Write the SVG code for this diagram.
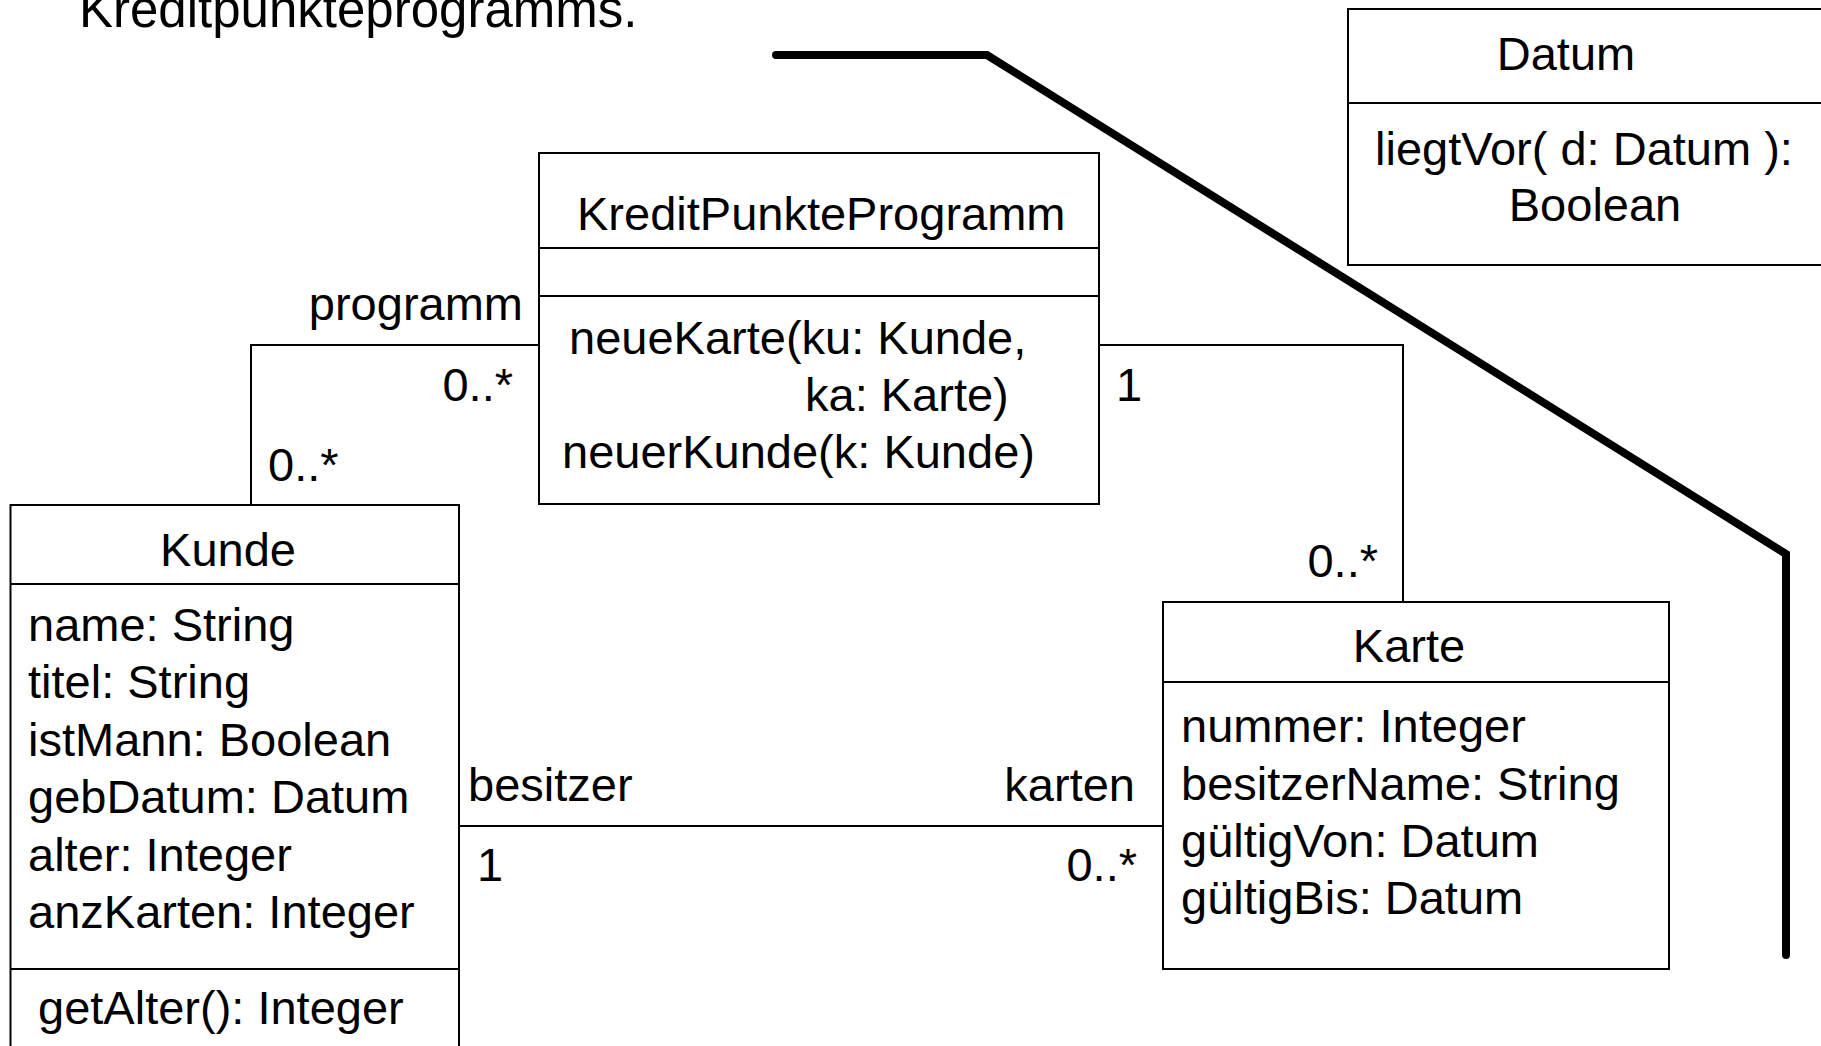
<svg xmlns="http://www.w3.org/2000/svg" width="1821" height="1046" viewBox="0 0 1821 1046">
<style>
text{font-family:"Liberation Sans",Arial,sans-serif;font-size:47px;fill:#000}
.box{fill:#fff;stroke:#000;stroke-width:2}
.div{stroke:#000;stroke-width:2}
.assoc{fill:none;stroke:#000;stroke-width:2}
.c{text-anchor:middle}
.r{text-anchor:end}
</style>
<rect width="1821" height="1046" fill="#fff"/>
<text x="79" y="27" style="font-size:51px">Kreditpunkteprogramms.</text>
<polyline points="776,55 987,55 1786,554 1786,955" fill="none" stroke="#000" stroke-width="8" stroke-linecap="round" stroke-linejoin="miter"/>
<g id="connectors">
<polyline class="assoc" points="539,345 251,345 251,505"/>
<polyline class="assoc" points="1099,345 1403,345 1403,602"/>
<line class="assoc" x1="459" y1="826" x2="1163" y2="826"/>
<text x="523" y="320" class="r">programm</text>
<text x="513" y="401" class="r">0..*</text>
<text x="268" y="481">0..*</text>
<text x="1116" y="401">1</text>
<text x="1378" y="577" class="r">0..*</text>
<text x="468" y="801">besitzer</text>
<text x="1135" y="801" class="r">karten</text>
<text x="477" y="881">1</text>
<text x="1137" y="881" class="r">0..*</text>
</g>
<g id="datum">
<rect class="box" x="1348" y="9" width="500" height="256"/>
<line class="div" x1="1348" y1="103" x2="1821" y2="103"/>
<text x="1566" y="70" class="c">Datum</text>
<text x="1375" y="165">liegtVor( d: Datum ):</text>
<text x="1595" y="221" class="c">Boolean</text>
</g>
<g id="kreditpunkteprogramm">
<rect class="box" x="539" y="153" width="560" height="351"/>
<line class="div" x1="539" y1="248" x2="1099" y2="248"/>
<line class="div" x1="539" y1="296" x2="1099" y2="296"/>
<text x="577" y="230">KreditPunkteProgramm</text>
<text x="569" y="354">neueKarte(ku: Kunde,</text>
<text x="805" y="411">ka: Karte)</text>
<text x="562" y="468">neuerKunde(k: Kunde)</text>
</g>
<g id="kunde">
<rect class="box" x="10.5" y="505" width="448.5" height="560"/>
<line class="div" x1="10.5" y1="584" x2="459" y2="584"/>
<line class="div" x1="10.5" y1="969" x2="459" y2="969"/>
<text x="228" y="566" class="c">Kunde</text>
<text>
<tspan x="28" y="641">name: String</tspan>
<tspan x="28" y="698">titel: String</tspan>
<tspan x="28" y="756">istMann: Boolean</tspan>
<tspan x="28" y="813">gebDatum: Datum</tspan>
<tspan x="28" y="871">alter: Integer</tspan>
<tspan x="28" y="928">anzKarten: Integer</tspan>
</text>
<text x="38" y="1024">getAlter(): Integer</text>
</g>
<g id="karte">
<rect class="box" x="1163" y="602" width="506" height="367"/>
<line class="div" x1="1163" y1="682" x2="1669" y2="682"/>
<text x="1409" y="662" class="c">Karte</text>
<text>
<tspan x="1181" y="742">nummer: Integer</tspan>
<tspan x="1181" y="800">besitzerName: String</tspan>
<tspan x="1181" y="857">gültigVon: Datum</tspan>
<tspan x="1181" y="914">gültigBis: Datum</tspan>
</text>
</g>
</svg>
